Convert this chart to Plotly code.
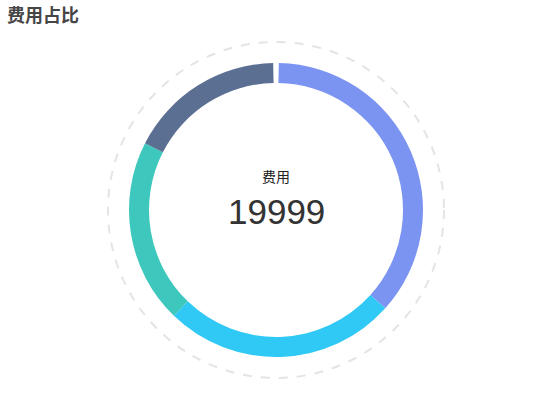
import plotly.graph_objects as go

# spending share (degrees of the circle)
labels = ["A", "B", "C", "D", ""]
values = [131, 92, 73, 62, 2]  # last one is the small blank gap at 12 o'clock
colors = ["#7b93f1", "#30c8f4", "#3dc7bd", "#5b6f93", "#ffffff"]

title = "费用占比"
center_label = "费用"
total = "19999"

W, H = 550, 420
cx, cy = 276, 210
r_out, r_in, r_dash = 147, 127, 168

fig = go.Figure()
fig.add_trace(
    go.Pie(
        labels=labels,
        values=values,
        sort=False,
        direction="clockwise",
        rotation=1,
        hole=r_in / r_out,
        marker=dict(colors=colors, line=dict(width=0)),
        textinfo="none",
        hoverinfo="skip",
        showlegend=False,
        domain=dict(
            x=[(cx - r_out) / W, (cx + r_out) / W],
            y=[1 - (cy + r_out) / H, 1 - (cy - r_out) / H],
        ),
    )
)

# dashed outer ring
fig.add_shape(
    type="circle",
    xref="paper",
    yref="paper",
    x0=(cx - r_dash) / W,
    x1=(cx + r_dash) / W,
    y0=1 - (cy + r_dash) / H,
    y1=1 - (cy - r_dash) / H,
    line=dict(color="#e4e4e4", width=2, dash="dash"),
    layer="below",
)

fig.add_annotation(
    text=title, x=5 / W, y=1 - 14 / H, xref="paper", yref="paper",
    xanchor="left", yanchor="middle", showarrow=False,
    font=dict(family="Noto Sans CJK SC", size=18, color="#464646", weight="bold"),
)
fig.add_annotation(
    text=center_label, x=cx / W, y=1 - 176 / H, xref="paper", yref="paper",
    xanchor="center", yanchor="middle", showarrow=False,
    font=dict(family="Noto Sans CJK SC", size=14, color="#222222"),
)
fig.add_annotation(
    text=total, x=cx / W, y=1 - 211 / H, xref="paper", yref="paper",
    xanchor="center", yanchor="middle", showarrow=False,
    font=dict(family="Liberation Sans", size=35, color="#333333"),
)

fig.update_layout(
    width=W,
    height=H,
    margin=dict(l=0, r=0, t=0, b=0),
    paper_bgcolor="#ffffff",
    plot_bgcolor="#ffffff",
)

# the page body has a default 8px margin; drop it so the chart sits at 0,0
fig.write_html(
    "out.html",
    config={"displayModeBar": False},
    post_script="document.body.style.margin='0';",
)
